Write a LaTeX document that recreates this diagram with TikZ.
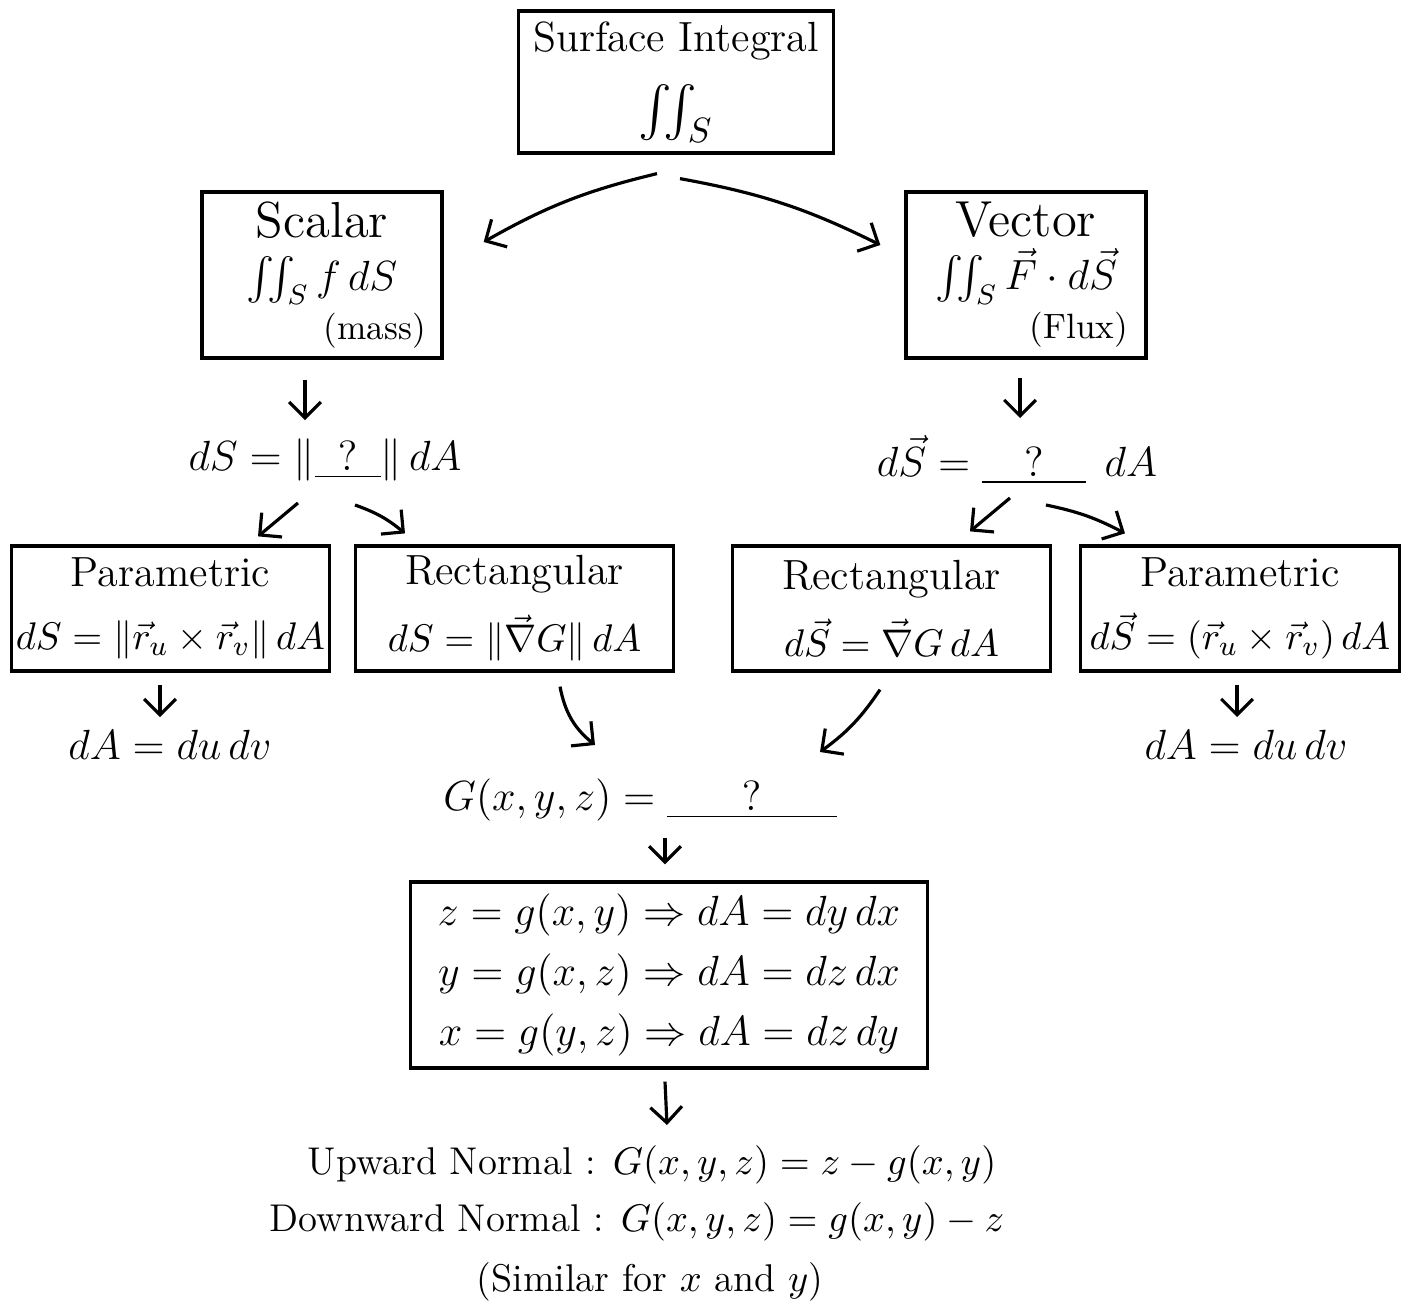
\documentclass[tikz,border=0pt]{standalone}
\usepackage{amsmath}
\usetikzlibrary{arrows.meta}
\begin{document}
\begin{tikzpicture}[x=0.01cm,y=-0.01cm,font=\large,
    box/.style={draw,line width=0.9pt,align=center,inner sep=0pt},
    small/.style={font=\fontsize{11pt}{13pt}\selectfont},
    arr/.style={-{Straight Barb[length=4.5pt,width=9pt]},line width=0.9pt}]
    \useasboundingbox (0,0) rectangle (1408,1306);

    \node[box,minimum width=3.14cm,minimum height=1.42cm] (top) at (676,82) {Surface Integral\\[6pt] \Large$\iint_S$};

    \node[box,minimum width=2.4cm,minimum height=1.66cm] (scalar) at (322,275) {\Large Scalar\\[1pt] $\iint_S f\,dS$\\ \hspace*{2.5em}{\normalsize (mass)}};
    \node[box,minimum width=2.4cm,minimum height=1.66cm] (vector) at (1026,275) {\Large Vector\\[1pt] $\iint_S \vec F\cdot d\vec S$\\ \hspace*{2.5em}{\normalsize (Flux)}};

    \node (dsl) at (325,460) {$dS = \|\underline{\;\;?\;\;}\|\,dA$};
    \node (dsr) at (1017,460) {$d\vec S = \underline{\quad?\quad}\;\,dA$};

    \node[box,small,minimum width=3.17cm,minimum height=1.25cm] (parl) at (170.5,608.5) {\large Parametric\\[5pt] $dS = \|\vec r_u\times\vec r_v\|\,dA$};
    \node[box,small,minimum width=3.17cm,minimum height=1.25cm] (rectl) at (514.5,608.5) {\large Rectangular\\[5pt] $dS = \|\vec\nabla G\|\,dA$};
    \node[box,small,minimum width=3.17cm,minimum height=1.25cm] (rectr) at (891.5,608.5) {\large Rectangular\\[5pt] $d\vec S = \vec\nabla G\,dA$};
    \node[box,small,minimum width=3.18cm,minimum height=1.25cm] (parr) at (1240,608.5) {\large Parametric\\[5pt] $d\vec S = (\vec r_u\times\vec r_v)\,dA$};

    \node (dal) at (170,745) {$dA = du\,dv$};
    \node (dar) at (1246,745) {$dA = du\,dv$};

    \node (gline) at (640,800) {$G(x,y,z) = \underline{\hspace{0.75cm}?\hspace{0.75cm}}$};

    \node[box,minimum width=5.16cm,minimum height=1.86cm] (cases) at (669,975) {$z = g(x,y) \Rightarrow dA = dy\,dx$\\[3pt] $y = g(x,z) \Rightarrow dA = dz\,dx$\\[3pt] $x = g(y,z) \Rightarrow dA = dz\,dy$};

    \node[small] (up) at (652,1165) {Upward Normal : $G(x,y,z) = z - g(x,y)$};
    \node[small] (down) at (637,1222) {Downward Normal : $G(x,y,z) = g(x,y) - z$};
    \node[small] (sim) at (650,1282) {(Similar for $x$ and $y$)};

    \draw[arr] ([shift={(-19,19)}]top.south) to[bend right=8] ([shift={(40,-33)}]scalar.east);
    \draw[arr] ([shift={(4,24)}]top.south) to[bend left=8] ([shift={(-24,-30)}]vector.west);
    \draw[arr] ([shift={(-17,20)}]scalar.south) -- ([shift={(-20,-40)}]dsl.center);
    \draw[arr] ([shift={(-6,18)}]vector.south) -- ([shift={(3,-42)}]dsr.center);
    \draw[arr] ([shift={(-27,43)}]dsl.center) -- ([shift={(87.5,-8)}]parl.north);
    \draw[arr] ([shift={(30,45)}]dsl.center) to[bend left=10] ([shift={(-109.5,-11)}]rectl.north);
    \draw[arr] ([shift={(-7,38)}]dsr.center) -- ([shift={(78.5,-13)}]rectr.north);
    \draw[arr] ([shift={(29,45)}]dsr.center) to[bend left=8] ([shift={(-115,-11)}]parr.north);
    \draw[arr] ([shift={(-10.5,12)}]parl.south) -- ([shift={(-10,-28)}]dal.center);
    \draw[arr] ([shift={(-3,12)}]parr.south) -- ([shift={(-9,-28)}]dar.center);
    \draw[arr] ([shift={(45.5,14)}]rectl.south) to[bend right=20] ([shift={(-45,-55)}]gline.center);
    \draw[arr] ([shift={(-11.5,17)}]rectr.south) to[bend left=10] ([shift={(180,-48)}]gline.center);
    \draw[arr] ([shift={(25,38)}]gline.center) -- ([shift={(-4,-16)}]cases.north);
    \draw[arr] ([shift={(-4,12)}]cases.south) -- ([shift={(15,-40)}]up.center);
\end{tikzpicture}
\end{document}
